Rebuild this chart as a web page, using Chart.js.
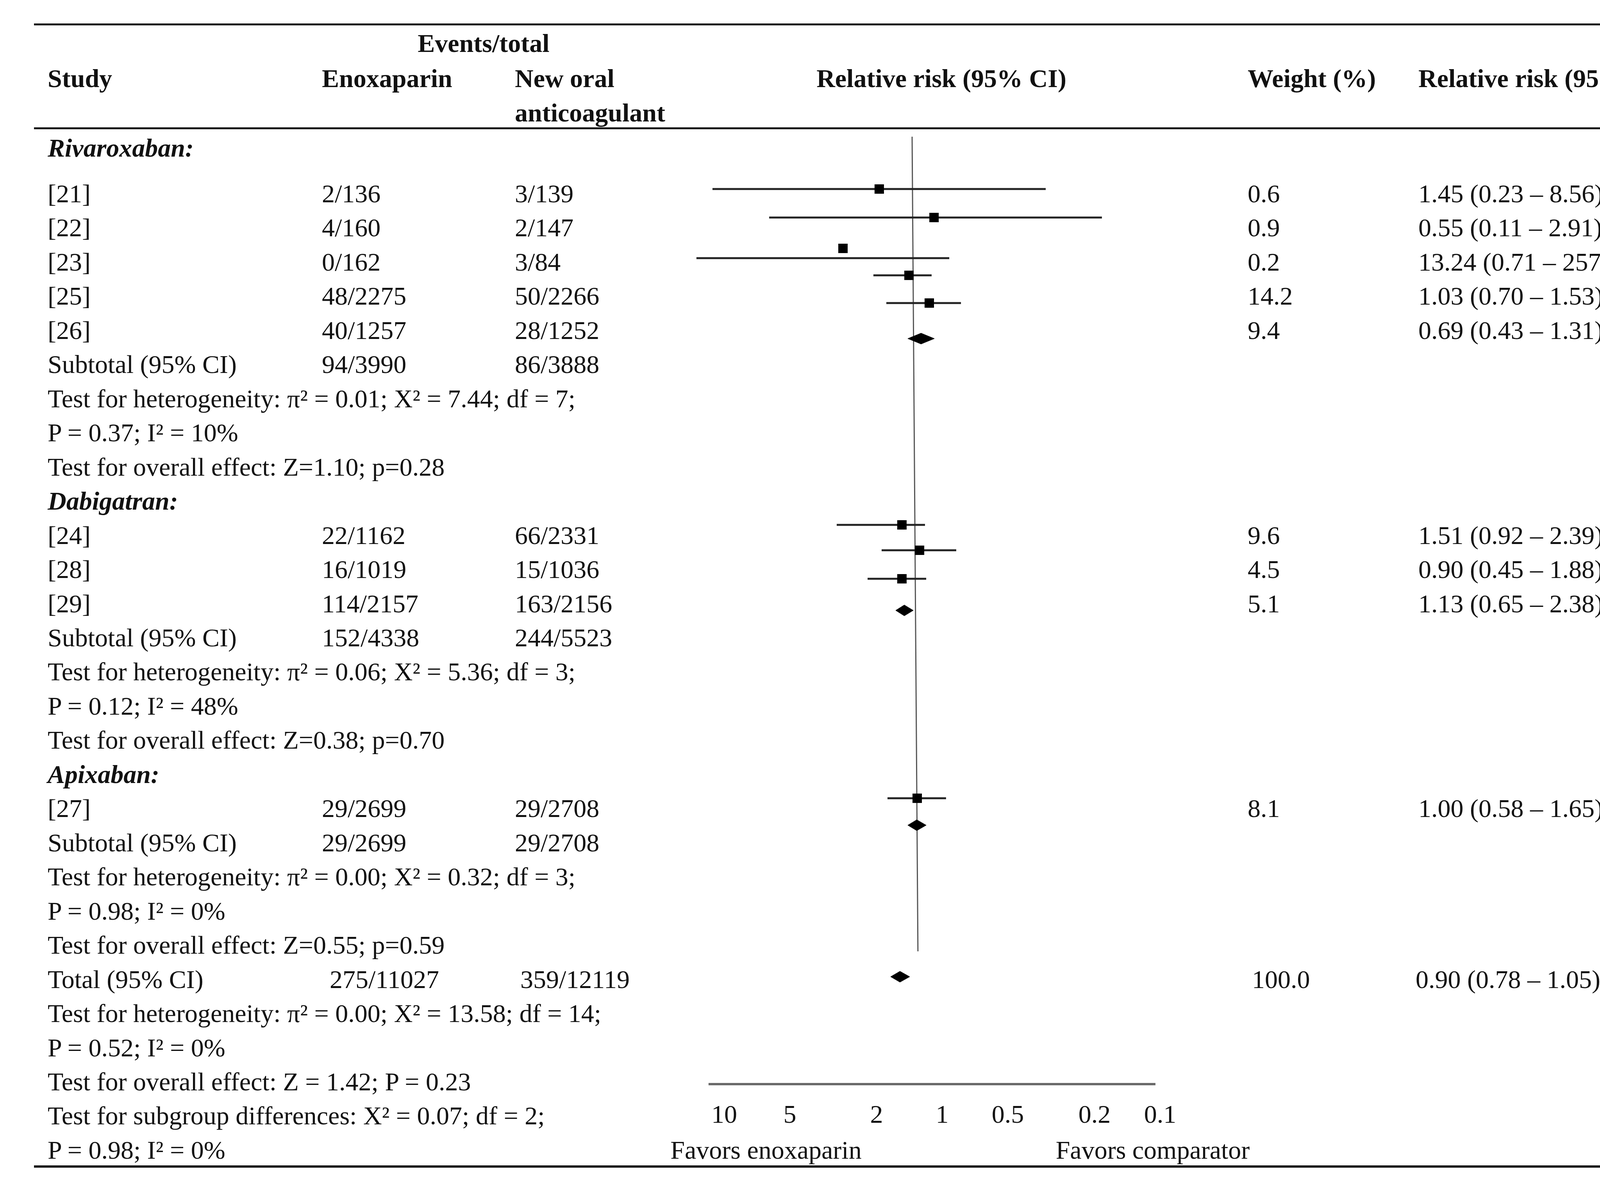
<!DOCTYPE html>
<html lang="en">

<head>
  <meta charset="UTF-8">
  <title>Forest plot</title>
  <script src="https://cdn.jsdelivr.net/npm/chart.js"></script>
  <style>
    body { margin: 0; background: #fff; }
    #page { position: relative; width: 4351px; height: 3042px; overflow: hidden; background: #fff; }
    #plot { position: absolute; left: 0; top: 0; }
    .cell { position: absolute; font-family: 'Liberation Serif', serif; font-size: 66px; line-height: 80px;
            height: 80px; white-space: nowrap; color: #111; }
    .b { font-weight: bold; }
    .bi { font-weight: bold; font-style: italic; }
    .mid { transform: translateX(-50%); }
    .rule { position: absolute; left: 87px; width: 4232px; background: #1a1a1a; }
  </style>
</head>

<body>
  <div id="page">
    <canvas id="plot" width="4351" height="3042"></canvas>
    <div id="text"></div>
    <div class="rule" style="top:60px;height:5px"></div>
    <div class="rule" style="top:326px;height:5px"></div>
    <div class="rule" style="top:2984px;height:6px"></div>
  </div>

  <script>
    // x axis ticks (relative risk, reversed log scale)
    const xTicks = [10, 5, 2, 1, 0.5, 0.2, 0.1];

    // table
    const groupNames = ['Rivaroxaban:', 'Dabigatran:', 'Apixaban:'];
    const studies = ['[21]', '[22]', '[23]', '[25]', '[26]', '[24]', '[28]', '[29]', '[27]'];
    const studyGroup = [0, 0, 0, 0, 0, 1, 1, 1, 2];
    const enoxEvents = ['2/136', '4/160', '0/162', '48/2275', '40/1257', '22/1162', '16/1019', '114/2157', '29/2699'];
    const noacEvents = ['3/139', '2/147', '3/84', '50/2266', '28/1252', '66/2331', '15/1036', '163/2156', '29/2708'];
    const weights = ['0.6', '0.9', '0.2', '14.2', '9.4', '9.6', '4.5', '5.1', '8.1'];
    const rrLabels = ['1.45 (0.23 – 8.56)', '0.55 (0.11 – 2.91)', '13.24 (0.71 – 257.7)', '1.03 (0.70 – 1.53)',
      '0.69 (0.43 – 1.31)', '1.51 (0.92 – 2.39)', '0.90 (0.45 – 1.88)', '1.13 (0.65 – 2.38)', '1.00 (0.58 – 1.65)'];

    const subEnox = ['94/3990', '152/4338', '29/2699'];
    const subNoac = ['86/3888', '244/5523', '29/2708'];
    const hetLines = ['Test for heterogeneity: π² = 0.01; X² = 7.44; df = 7;',
      'Test for heterogeneity: π² = 0.06; X² = 5.36; df = 3;',
      'Test for heterogeneity: π² = 0.00; X² = 0.32; df = 3;'];
    const pLines = ['P = 0.37; I² = 10%', 'P = 0.12; I² = 48%', 'P = 0.98; I² = 0%'];
    const effectLines = ['Test for overall effect: Z=1.10; p=0.28', 'Test for overall effect: Z=0.38; p=0.70',
      'Test for overall effect: Z=0.55; p=0.59'];

    const totalRow = ['Total (95% CI)', '275/11027', '359/12119', '100.0', '0.90 (0.78 – 1.05)'];
    const totalNotes = ['Test for heterogeneity: π² = 0.00; X² = 13.58; df = 14;', 'P = 0.52; I² = 0%',
      'Test for overall effect: Z = 1.42; P = 0.23', 'Test for subgroup differences: X² = 0.07; df = 2;',
      'P = 0.98; I² = 0%'];

    // marks as drawn (x in axis units, y in table rows)
    const pointEst = [1.944, 1.09, 2.852, 1.42, 1.146, 1.53, 1.27, 1.53, 1.302];
    const ciUpper = [11.32, 6.22, 13.41, 2.068, 1.804, 3.047, 1.896, 2.199, 1.782];
    const ciLower = [0.335, 0.185, 0.928, 1.118, 0.820, 1.199, 0.862, 1.184, 0.960];
    const pointRow = [0.863, 1.697, 2.601, 3.390, 4.201, 10.696, 11.439, 12.274, 18.700];
    const ciRow = [0.863, 1.697, 2.887, 3.390, 4.201, 10.696, 11.439, 12.274, 18.700];

    // subtotal diamonds then the total diamond
    const diamondEst = [1.25, 1.492, 1.308, 1.562];
    const diamondUpper = [1.438, 1.634, 1.438, 1.724];
    const diamondLower = [1.086, 1.357, 1.184, 1.409];
    const diamondRow = [5.242, 13.2, 19.489, 23.925];

    const refLineX = [1.374, 1.292];
    const refLineRow = [-0.669, 23.181];
    const axisLineX = [11.8, 0.1051];
    const axisLineRow = 27.07;

    // layout
    const ROW1_Y = 496, ROW_H = 87.46;
    const PLOT_L = 1700, PLOT_R = 3100, PLOT_T = 300, PLOT_B = 2810;
    const COL = { study: 122, enox: 824, noac: 1318, weight: 3194, rr: 3631 };
    const rowY = r => ROW1_Y + (r - 1) * ROW_H;

    const layer = document.getElementById('text');
    function addText(txt, x, y, cls) {
      const d = document.createElement('div');
      d.className = 'cell ' + (cls || '');
      d.textContent = txt;
      d.style.left = x + 'px';
      d.style.top = (y - 40) + 'px';
      layer.appendChild(d);
    }

    // header
    addText('Events/total', 1238, 111, 'b mid');
    addText('Study', COL.study, 201, 'b');
    addText('Enoxaparin', COL.enox, 201, 'b');
    addText('New oral', COL.noac, 201, 'b');
    addText('anticoagulant', COL.noac, 289, 'b');
    addText('Relative risk (95% CI)', 2410, 201, 'b mid');
    addText('Weight (%)', COL.weight, 201, 'b');
    addText('Relative risk (95% CI)', COL.rr, 201, 'b');

    // body rows
    let r = 1;
    groupNames.forEach((g, gi) => {
      addText(g, COL.study, gi === 0 ? 379 : rowY(r++), 'bi');
      studies.forEach((s, i) => {
        if (studyGroup[i] !== gi) return;
        const y = rowY(r++);
        addText(s, COL.study, y);
        addText(enoxEvents[i], COL.enox, y);
        addText(noacEvents[i], COL.noac, y);
        addText(weights[i], COL.weight, y);
        addText(rrLabels[i], COL.rr, y);
      });
      let y = rowY(r++);
      addText('Subtotal (95% CI)', COL.study, y);
      addText(subEnox[gi], COL.enox, y);
      addText(subNoac[gi], COL.noac, y);
      addText(hetLines[gi], COL.study, rowY(r++));
      addText(pLines[gi], COL.study, rowY(r++));
      addText(effectLines[gi], COL.study, rowY(r++));
    });
    const ty = rowY(r++);
    addText(totalRow[0], COL.study, ty);
    addText(totalRow[1], 844, ty);
    addText(totalRow[2], 1332, ty);
    addText(totalRow[3], 3205, ty);
    addText(totalRow[4], 3624, ty);
    totalNotes.forEach(t => addText(t, COL.study, rowY(r++)));
    addText('Favors enoxaparin', 1961, rowY(r - 1), 'mid');
    addText('Favors comparator', 2951, rowY(r - 1), 'mid');

    // chart datasets
    const ink = '#111';
    const datasets = [];
    datasets.push({
      data: studies.map((s, i) => ({ x: pointEst[i], y: pointRow[i] })),
      pointStyle: 'rect', pointRadius: 17, backgroundColor: '#000', borderWidth: 0, showLine: false
    });
    diamondEst.forEach((est, i) => {
      const y = diamondRow[i], h = 0.16;
      datasets.push({
        data: [{ x: diamondUpper[i], y }, { x: est, y: y - h }, { x: diamondLower[i], y },
               { x: est, y: y + h }, { x: diamondUpper[i], y }],
        showLine: true, fill: 'shape', backgroundColor: '#000', borderColor: '#000',
        borderWidth: 1, pointRadius: 0, tension: 0
      });
    });
    studies.forEach((s, i) => {
      datasets.push({
        data: [{ x: ciUpper[i], y: ciRow[i] }, { x: ciLower[i], y: ciRow[i] }],
        showLine: true, borderColor: '#222', borderWidth: 5, pointRadius: 0
      });
    });
    datasets.push({
      data: [{ x: refLineX[0], y: refLineRow[0] }, { x: refLineX[1], y: refLineRow[1] }],
      showLine: true, borderColor: '#555', borderWidth: 3, pointRadius: 0
    });
    datasets.push({
      data: [{ x: axisLineX[0], y: axisLineRow }, { x: axisLineX[1], y: axisLineRow }],
      showLine: true, borderColor: '#6a6a6a', borderWidth: 6, pointRadius: 0
    });

    const tickSize = 66, tickLine = 1.2, tickPad = 8.4;
    const axisH = tickSize * tickLine + tickPad * 2;

    new Chart(document.getElementById('plot').getContext('2d'), {
      type: 'scatter',
      data: { datasets },
      options: {
        responsive: false,
        devicePixelRatio: 1,
        animation: false,
        events: [],
        layout: {
          padding: { left: PLOT_L, right: 4351 - PLOT_R, top: PLOT_T, bottom: 3042 - PLOT_B - axisH }
        },
        plugins: { legend: { display: false }, tooltip: { enabled: false } },
        scales: {
          x: {
            type: 'logarithmic',
            reverse: true,
            min: 0.05848,
            max: 18.877,
            bounds: 'data',
            afterBuildTicks: scale => { scale.ticks = xTicks.map(v => ({ value: v })); },
            grid: { display: false, drawTicks: false },
            border: { display: false },
            ticks: {
              autoSkip: false, maxRotation: 0, padding: tickPad, color: ink,
              font: { family: 'Liberation Serif', size: tickSize, lineHeight: tickLine },
              callback: v => String(v)
            }
          },
          y: {
            type: 'linear',
            reverse: true,
            display: false,
            min: 1 + (PLOT_T - ROW1_Y) / ROW_H,
            max: 1 + (PLOT_B - ROW1_Y) / ROW_H
          }
        }
      }
    });
  </script>
</body>

</html>
